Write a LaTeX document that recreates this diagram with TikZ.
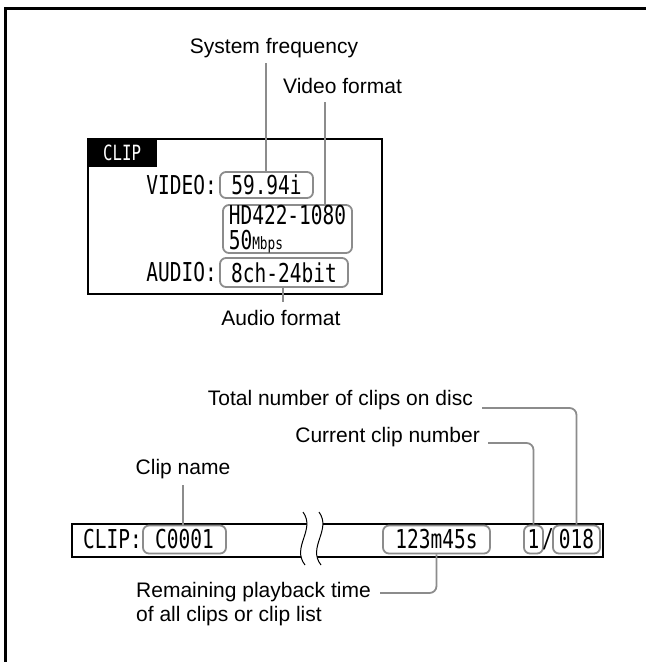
\documentclass[tikz,border=0pt]{standalone}
\usepackage{fontspec}
\setmainfont{Liberation Sans}
\newfontfamily\lcd[FakeStretch=0.75]{DejaVu Sans Mono}
\definecolor{lg}{RGB}{140,140,140}
\begin{document}
\begin{tikzpicture}[x=1pt,y=-1pt,
  lcdtxt/.style={font=\lcd\fontsize{26}{26}\selectfont, inner sep=0pt},
  gbox/.style={draw=lg, line width=1.8pt, rounded corners=6pt, inner sep=0pt,
               font=\lcd\fontsize{26}{25}\selectfont},
  lbl/.style={font=\fontsize{21}{24}\selectfont, inner sep=0pt},
  lead/.style={draw=lg, line width=1.8pt, rounded corners=7pt},
]
\useasboundingbox (0,0) rectangle (646,662);
\draw[line width=3pt] (5,662) -- (5,8) -- (646,8);

% ---------- upper display ----------
\node[draw, line width=1.8pt, minimum width=294pt, minimum height=155pt,
      inner sep=0pt, anchor=north west] (disp) at (87,138) {};
\node[fill=black, minimum width=70pt, minimum height=29pt, inner sep=0pt,
      anchor=north west, text=white, font=\lcd\fontsize{21}{21}\selectfont]
      (hdr) at (87,138) {CLIP};

\node[lcdtxt, anchor=east] (vlab) at (217,185) {VIDEO:};
\node[gbox, minimum width=93pt, minimum height=26pt] (freq) at (266.5,185) {59.94i};
\node[gbox, minimum width=129pt, minimum height=48pt, align=left] (vfmt) at (287.5,229)
      {HD422-1080\\50{\fontsize{17}{17}\selectfont Mbps}};
\node[lcdtxt, anchor=east] (alab) at (217,272.5) {AUDIO:};
\node[gbox, minimum width=128pt, minimum height=29pt] (aud) at (284,272.5) {8ch-24bit};

\node[lbl] (sysf) at (274,48) {System frequency};
\coordinate (sf1) at (266,63);
\draw[lead] (sf1) -- (sf1 |- freq.north);

\node[lbl, anchor=west] (vidf) at (283,86) {Video format};
\coordinate (vf1) at (325,102);
\draw[lead] (vf1) -- (vf1 |- vfmt.north);

\node[lbl] (audf) at (281,318) {Audio format};
\coordinate (af1) at (283,302);
\draw[lead] (aud.south -| af1) -- (af1);

% ---------- lower display ----------
\node[draw, line width=1.5pt, minimum width=531pt, minimum height=33pt,
      inner sep=0pt, anchor=north west] (bar) at (71,523) {};
\fill[white] (303,512) .. controls (316,530) and (291,547) .. (305,565)
   -- (321,565) .. controls (307,547) and (332,530) .. (319,512) -- cycle;
\draw[line width=1pt] (303,512) .. controls (316,530) and (291,547) .. (305,565);
\draw[line width=1pt] (319,512) .. controls (332,530) and (307,547) .. (321,565);

\node[lcdtxt, anchor=east] (cliplab) at (142,539.5) {CLIP:};
\node[gbox, minimum width=83pt, minimum height=28pt] (cname) at (184.5,539.5) {C0001};
\node[gbox, minimum width=107pt, minimum height=28pt] (rtime) at (436.5,539.5) {123m45s};
\node[gbox, minimum width=19pt, minimum height=28pt] (cur) at (533.5,539.5) {1};
\node[lcdtxt] (slash) at (548,539.5) {/};
\node[gbox, minimum width=47pt, minimum height=28pt] (tot) at (576.5,539.5) {018};

\node[lbl, anchor=east] (totl) at (473,400) {Total number of clips on disc};
\coordinate (t1) at (482,408);
\draw[lead] (t1) -| (tot.north);

\node[lbl, anchor=east] (curl) at (480,437) {Current clip number};
\coordinate (c1) at (488,443);
\draw[lead] (c1) -| (cur.north);

\node[lbl] (cnl) at (183,469) {Clip name};
\coordinate (cn1) at (183,485);
\draw[lead] (cn1) -- (cn1 |- cname.north);

\node[lbl, anchor=west, align=left] (reml) at (136,604)
      {Remaining playback time\\of all clips or clip list};
\coordinate (r1) at (380,593);
\draw[lead] (r1) -| (rtime.south);
\end{tikzpicture}
\end{document}
